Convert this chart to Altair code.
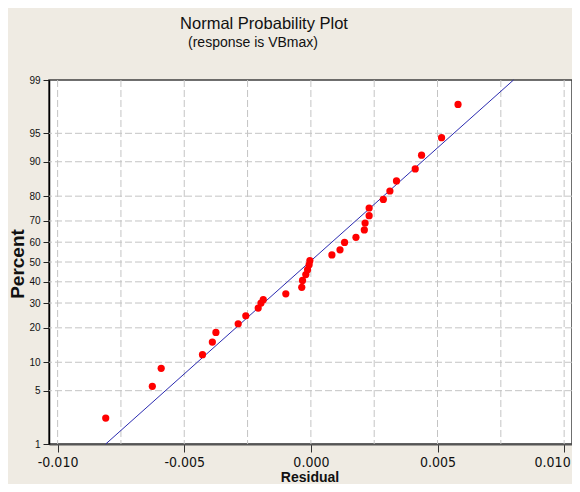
import altair as alt
import pandas as pd
from statistics import NormalDist

# ---- data ----
residual = [-0.00810, -0.00626, -0.00591, -0.00428, -0.00389, -0.00375, -0.00287,
            -0.00257, -0.00208, -0.00197, -0.00188, -0.00099, -0.00036, -0.00033,
            -0.00020, -0.00013, -0.00007, -0.00004, 0.00083, 0.00115, 0.00133,
            0.00178, 0.00211, 0.00214, 0.00230, 0.00230, 0.00286, 0.00312,
            0.00338, 0.00412, 0.00437, 0.00516, 0.00581]
percent = [2.3, 5.6, 8.7, 11.8, 15.3, 18.4, 21.5, 24.6, 27.8, 30.0, 31.5, 34.2,
           37.3, 40.7, 43.6, 46.1, 48.6, 50.7, 53.6, 56.2, 59.9, 62.4, 65.9, 69.1,
           72.3, 75.5, 78.8, 81.8, 85.0, 88.3, 91.4, 94.4, 97.8]
fit_residual = [-0.0081, 0.0080]
fit_percent = [1, 99]

x_ticks = [-0.010, -0.005, 0.0, 0.005, 0.010]
x_grid = [-0.010, -0.0075, -0.005, -0.0025, 0.0, 0.0025, 0.005, 0.0075, 0.010]
y_ticks = [1, 5, 10, 20, 30, 40, 50, 60, 70, 80, 90, 95, 99]
y_grid = [5, 10, 20, 30, 40, 50, 60, 70, 80, 90, 95]

title_text = "Normal Probability Plot"
subtitle_text = "(response is VBmax)"
x_title = "Residual"
y_title = "Percent"

nd = NormalDist()
def z(p):
    return nd.inv_cdf(p / 100.0)

pts = pd.DataFrame({"r": residual, "p": percent, "z": [z(p) for p in percent]})
fit = pd.DataFrame({"r": fit_residual, "p": fit_percent, "z": [z(p) for p in fit_percent]})
xg = pd.DataFrame({"r": x_grid})
yg = pd.DataFrame({"z": [z(p) for p in y_grid]})

z_ticks = [z(p) for p in y_ticks]
# label expression mapping probability-scale positions back to percent labels
expr = "'%d'" % y_ticks[-1]
for i in range(len(y_ticks) - 2, -1, -1):
    mid = (z_ticks[i] + z_ticks[i + 1]) / 2
    expr = "datum.value < %f ? '%d' : (%s)" % (mid, y_ticks[i], expr)

xscale = alt.Scale(domain=[-0.01034, 0.01031], nice=False, zero=False)
yscale = alt.Scale(domain=[z(1), z(99)], nice=False, zero=False)

narrow = "Liberation Sans Narrow, DejaVu Sans Condensed, Liberation Sans, Arial"
sans = "Liberation Sans, Arial, DejaVu Sans"

xaxis = alt.Axis(values=x_ticks, title=None, grid=False,
                 labelExpr="(datum.value < -1e-9 ? '-' : '') + format(abs(datum.value), '.3f')",
                 tickSize=8, tickColor="#333333", domainColor="#555555", domainWidth=2,
                 labelFont=narrow, labelFontSize=14, labelColor="#111111",
                 labelPadding=3, labelFlush=8.2, labelFlushOffset=6, labelOverlap=False)
yaxis = alt.Axis(values=z_ticks, title=None, grid=False, labelExpr=expr,
                 tickSize=6, tickColor="#222222", domainColor="#000000", domainWidth=1.5,
                 labelFont=sans, labelFontSize=10, labelColor="#111111",
                 labelPadding=3, labelFlush=False, labelOverlap=False)

X = alt.X("r:Q", scale=xscale, axis=xaxis)
Y = alt.Y("z:Q", scale=yscale, axis=yaxis)

grid_x = alt.Chart(xg).mark_rule(color="#C4C4C4", strokeDash=[7, 3], strokeWidth=1).encode(x=X)
grid_y = alt.Chart(yg).mark_rule(color="#C4C4C4", strokeDash=[7, 3], strokeWidth=1).encode(y=Y)

line = alt.Chart(fit).mark_line(color="#2B2BB0", strokeWidth=1).encode(x=X, y=Y)

points = alt.Chart(pts).mark_circle(size=52, color="#FF0000", opacity=1).encode(x=X, y=Y)

def label(txt, x, y, size, weight="normal", angle=0, font=sans):
    return alt.Chart(pd.DataFrame({"t": [txt]})).mark_text(
        fontSize=size, fontWeight=weight, angle=angle, font=font, color="#111111",
        align="center", baseline="alphabetic").encode(
        x=alt.value(x), y=alt.value(y), text="t:N")

t1 = label(title_text, 215, -51, 16.5)
t2 = label(subtitle_text, 204, -33, 14)
tx = label(x_title, 261, 402, 14, weight="bold")
ty = label(y_title, -25, 184, 19, weight="bold", angle=270)

chart = alt.layer(grid_x, grid_y, line, points, t1, t2, tx, ty).properties(
    width=523, height=364,
    autosize=alt.AutoSizeParams(type="none"),
    padding={"left": 41, "top": 72, "right": 0, "bottom": 40},
    background="#EFEBE3",
).configure_view(fill="white", stroke="#404040", strokeWidth=1.5)

chart.save("out.html", embed_options={"renderer": "svg", "actions": False})
